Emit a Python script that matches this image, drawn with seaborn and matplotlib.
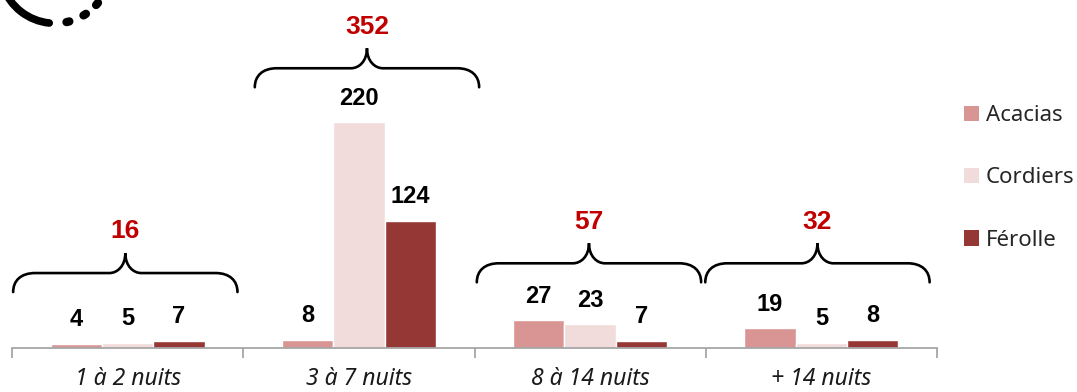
import matplotlib
matplotlib.use("Agg")
import matplotlib.pyplot as plt
import seaborn as sns
import pandas as pd
from matplotlib.path import Path
from matplotlib.patches import PathPatch, Patch, Arc

# Nights per stay length, for each site
categories = ["1 à 2 nuits", "3 à 7 nuits", "8 à 14 nuits", "+ 14 nuits"]
sites = ["Acacias", "Cordiers", "Férolle"]
acacias = [4, 8, 27, 19]
cordiers = [5, 220, 23, 5]
ferolle = [7, 124, 7, 8]
palette = ["#D99594", "#F2DCDB", "#953735"]

# Brace levels above each group (data units) and small horizontal shifts
brace_level = [54.5, 254, 64, 64]
brace_shift = [-0.01, 0.035, -0.005, -0.017]

df = pd.DataFrame({
    "Durée": categories * 3,
    "Site": [s for s in sites for _ in categories],
    "Nuitées": acacias + cordiers + ferolle,
})
totals = df.groupby("Durée", sort=False)["Nuitées"].sum().reindex(categories)

sns.set_theme(style="white")
plt.rcParams["font.family"] = ["Noto Sans", "DejaVu Sans"]
BOLD_FONT = ["Liberation Sans", "DejaVu Sans"]

W, H = 1077, 392
fig = plt.figure(figsize=(W / 100, H / 100), dpi=100)
ax_left, ax_right, ax_base = 12, 937, 348
ax = fig.add_axes([ax_left / W, (H - ax_base) / H, (ax_right - ax_left) / W, ax_base / H])
ax.patch.set_alpha(0)

sns.barplot(data=df, x="Durée", y="Nuitées", hue="Site", order=categories,
            hue_order=sites, palette=palette, width=0.667, saturation=1,
            ax=ax, legend=False)
ax.set_xlim(-0.5, 3.5)
ax.set_ylim(0, 339)

# value labels on each bar
for cont in ax.containers:
    ax.bar_label(cont, padding=9, fontsize=17, fontweight="bold", color="black",
                 family=BOLD_FONT)

# axis styling
for s in ["left", "right", "top"]:
    ax.spines[s].set_visible(False)
ax.spines["bottom"].set_color("#A6A6A6")
ax.spines["bottom"].set_linewidth(1.3)
ax.set_yticks([])
ax.set_xlabel("")
ax.set_ylabel("")
ax.set_xticks([i - 0.5 for i in range(len(categories) + 1)])
ax.set_xticklabels([])
ax.set_xticks(range(len(categories)), minor=True)
ax.set_xticklabels(categories, minor=True, fontsize=16.5, style="italic", color="#1a1a1a")
ax.tick_params(axis="x", which="major", length=7, width=1.3, color="#A6A6A6", direction="out", bottom=True)
ax.tick_params(axis="x", which="minor", length=0, pad=14, bottom=True)

# curly braces with group totals
pxx = (ax_right - ax_left) / 4.0      # pixels per category unit
pxy = ax_base / 339.0                 # pixels per value unit


def brace(x0, x1, y0):
    xm = (x0 + x1) / 2
    h1, h2 = 19 / pxy, 20 / pxy
    r1, r2 = 22 / pxx, 16 / pxx
    yh, yp = y0 + h1, y0 + h1 + h2
    verts = [
        (x0, y0),
        (x0, y0 + 0.6 * h1), (x0 + 0.35 * r1, yh), (x0 + r1, yh),
        (xm - r2, yh),
        (xm - 0.5 * r2, yh), (xm, yh + 0.35 * h2), (xm, yp),
        (xm, yh + 0.35 * h2), (xm + 0.5 * r2, yh), (xm + r2, yh),
        (x1 - r1, yh),
        (x1 - 0.35 * r1, yh), (x1, y0 + 0.6 * h1), (x1, y0),
    ]
    codes = [Path.MOVETO,
             Path.CURVE4, Path.CURVE4, Path.CURVE4,
             Path.LINETO,
             Path.CURVE4, Path.CURVE4, Path.CURVE4,
             Path.CURVE4, Path.CURVE4, Path.CURVE4,
             Path.LINETO,
             Path.CURVE4, Path.CURVE4, Path.CURVE4]
    ax.add_patch(PathPatch(Path(verts, codes), fill=False, lw=1.9,
                           edgecolor="black", capstyle="round", clip_on=False))
    return xm, yp


for i, cat in enumerate(categories):
    c = i + brace_shift[i]
    xm, yp = brace(c - 0.485, c + 0.485, brace_level[i])
    ax.annotate(f"{totals[cat]}", (xm, yp), xytext=(0, 7), textcoords="offset points",
                ha="center", va="bottom", fontsize=19, fontweight="bold",
                family=BOLD_FONT, color="#C00000", annotation_clip=False)

# legend on the right
handles = [Patch(facecolor=c, edgecolor="none", label=s) for s, c in zip(sites, palette)]
fig.legend(handles=handles, loc="upper left", bbox_to_anchor=(964 / W, 1 - 105 / H),
           frameon=False, fontsize=16, handlelength=0.68, handleheight=0.68,
           handletextpad=0.3, labelspacing=1.86, borderpad=0, borderaxespad=0)

# dotted ring emblem at the top left
deco = fig.add_axes([0, 0, 1, 1])
deco.set_xlim(0, W)
deco.set_ylim(0, H)
deco.axis("off")
cx, cy, r = 55, H + 32, 55.3
deco.add_patch(Arc((cx, cy), 2 * r, 2 * r, theta1=200, theta2=264, lw=5.5,
                   color="black", capstyle="round"))
for ang in [283.5, 302.5, 319.5]:
    deco.add_patch(Arc((cx, cy), 2 * r, 2 * r, theta1=ang - 1.5, theta2=ang + 1.5,
                       lw=6, color="black", capstyle="round"))

fig.savefig("out.png", dpi=100)
